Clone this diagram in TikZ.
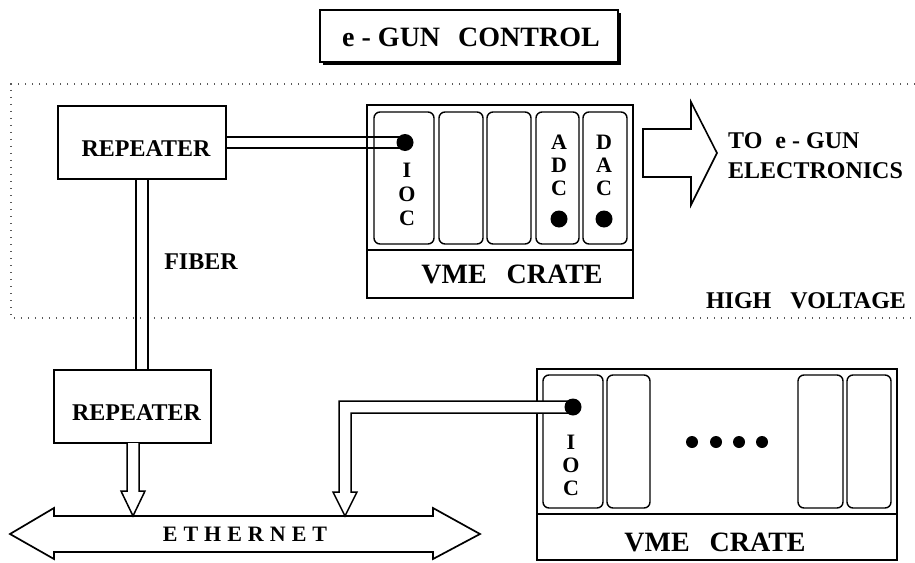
\documentclass[tikz,border=0pt]{standalone}
\usepackage{fontspec}
\setmainfont{Liberation Serif}
\usetikzlibrary{calc}
\newcommand{\fsz}[1]{\fontsize{#1}{#1}\selectfont\bfseries}
\begin{document}
\begin{tikzpicture}[x=1pt,y=-1pt,line join=miter,
  box/.style={draw,line width=1.8pt,inner sep=0pt,fill=white},
  slot/.style={draw,line width=1.4pt,rounded corners=6pt,inner sep=0pt},
  txt/.style={inner sep=0pt,font=\fsz{24}},
  bigtxt/.style={inner sep=0pt,font=\fsz{28}},
  ltr/.style={inner sep=0pt,font=\fsz{22}},
  iodot/.style={circle,fill=black,inner sep=0pt,minimum size=17pt},
  smalldot/.style={circle,fill=black,inner sep=0pt,minimum size=12pt},
  wire/.style={draw,line width=1.5pt,fill=white},
  hvline/.style={draw=black!65,line width=1.3pt,dash pattern=on 1.3pt off 5.7pt}]
\useasboundingbox (0,0) rectangle (915,562);

% title
\fill (323,13) rectangle (621,65);
\node[box,line width=2pt,minimum width=298pt,minimum height=52pt] (title) at (469,36) {};
\node[bigtxt] (titletxt) at (471,37) {e - GUN\hspace{18pt}CONTROL};

% high voltage region
\draw[hvline] (915,84) -- (11,84) -- (11,318) -- (915,318);
\node[txt] (hv) at (806,301) {HIGH\hspace{19pt}VOLTAGE};

% repeaters
\node[box,minimum width=168pt,minimum height=73pt] (rep1) at (142,142.5) {};
\node[txt] (rep1t) at ($(rep1)+(4,6)$) {REPEATER};
\node[box,minimum width=157pt,minimum height=73pt] (rep2) at (132.5,406.5) {};
\node[txt] (rep2t) at ($(rep2)+(4,6)$) {REPEATER};
\node[txt] (fiber) at (201,262) {FIBER};

% upper crate
\node[box,minimum width=266pt,minimum height=193pt] (crate1) at (500,201.5) {};
\draw[line width=1.8pt] ($(crate1.south west)+(0,-49)$) -- ($(crate1.south east)+(0,-49)$);
\node[bigtxt] (crate1t) at (512,274) {VME\hspace{20pt}CRATE};
\node[slot,minimum width=60pt,minimum height=132pt] (s1) at (404,178) {};
\node[slot,minimum width=44pt,minimum height=132pt] (s2) at (461,178) {};
\node[slot,minimum width=44pt,minimum height=132pt] (s3) at (509,178) {};
\node[slot,minimum width=43pt,minimum height=132pt] (s4) at (557.5,178) {};
\node[slot,minimum width=44pt,minimum height=132pt] (s5) at (605,178) {};
\node[ltr] (s1a) at (407,170) {I};
\node[ltr] (s1b) at (407,194) {O};
\node[ltr] (s1c) at (407,218) {C};
\node[ltr] (s4a) at (559,142) {A};
\node[ltr] (s4b) at (559,165) {D};
\node[ltr] (s4c) at (559,188) {C};
\node[ltr] (s5a) at (604,142) {D};
\node[ltr] (s5b) at (604,165) {A};
\node[ltr] (s5c) at (604,188) {C};
\node[iodot] (adcdot) at (559,219) {};
\node[iodot] (dacdot) at (604,219) {};
\coordinate (d1) at (405,142.5);

% output arrow
\draw[line width=1.6pt] (643,129) -- (691,129) -- (691,102) -- (717,153) -- (691,205) -- (691,177) -- (643,177) -- cycle;
\node[txt,anchor=base west] (to1) at (728,148) {TO\hspace{13pt}e - GUN};
\node[txt,anchor=base west] (to2) at (728,178) {ELECTRONICS};

% lower crate
\node[box,minimum width=360pt,minimum height=191pt] (crate2) at (717,464.5) {};
\draw[line width=1.8pt] ($(crate2.south west)+(0,-47)$) -- ($(crate2.south east)+(0,-47)$);
\node[bigtxt] (crate2t) at (715,542) {VME\hspace{20pt}CRATE};
\node[slot,minimum width=60pt,minimum height=133pt] (t1) at (573,441.5) {};
\node[slot,minimum width=43pt,minimum height=133pt] (t2) at (628.5,441.5) {};
\node[slot,minimum width=45pt,minimum height=133pt] (t3) at (820.5,441.5) {};
\node[slot,minimum width=44pt,minimum height=133pt] (t4) at (869,441.5) {};
\node[ltr] (t1a) at (571,442) {I};
\node[ltr] (t1b) at (571,465) {O};
\node[ltr] (t1c) at (571,488) {C};
\node[smalldot] (m1) at (692,442) {};
\node[smalldot] (m2) at (716,442) {};
\node[smalldot] (m3) at (739,442) {};
\node[smalldot] (m4) at (762,442) {};
\coordinate (d2) at (573,407);

% ethernet
\draw[line width=1.7pt] (10,534) -- (54,508) -- (54,516) -- (433,516) -- (433,508) -- (480,534) -- (433,559) -- (433,552) -- (54,552) -- (54,559) -- cycle;
\node[inner sep=0pt,font=\fsz{22}] (eth) at (245,534) {E\hspace{6pt}T\hspace{6pt}H\hspace{6pt}E\hspace{6pt}R\hspace{6pt}N\hspace{6pt}E\hspace{6pt}T};
\coordinate (e1) at (133,516);
\coordinate (e2) at (345,516);

% connectors
\coordinate (f1) at ($(rep1.south)+(-6,0)$);
\coordinate (f2) at ($(rep1.south)+(6,0)$);
\draw[wire] ($(rep1.east)+(0,-5.5)$) -- ($(d1)+(0,-5.5)$);
\draw[wire] ($(rep1.east)+(0,5.5)$) -- ($(d1)+(0,5.5)$);
\draw[line width=1.5pt] (f1) -- (f1 |- rep2.north);
\draw[line width=1.5pt] (f2) -- (f2 |- rep2.north);
\draw[wire] ($(e1)+(-6,-73)$) -- ++(0,48) -- ++(-6,0) -- (e1) -- ++(12,-25) -- ++(-6,0) -- ++(0,-48);
\draw[wire] ($(d2)+(0,-6)$) -| ($(e2)+(-6,-24)$) -- ++(-6,0) -- (e2) -- ++(12,-24) -- ++(-6,0) |- ($(d2)+(0,6)$);
\node[iodot] (iodot1) at (d1) {};
\node[iodot] (iodot2) at (d2) {};
\end{tikzpicture}
\end{document}
